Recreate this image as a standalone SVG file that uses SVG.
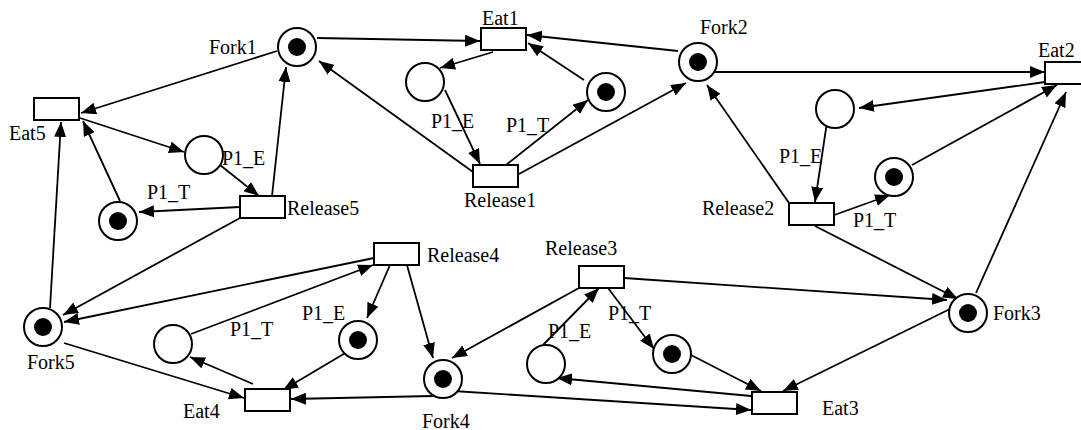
<svg xmlns="http://www.w3.org/2000/svg" width="1081" height="430" viewBox="0 0 1081 430">
  <style>
    .bg { fill: #ffffff; }
    .place { fill: #ffffff; stroke: #000000; stroke-width: 2; }
    .token { fill: #000000; }
    .trans { fill: #ffffff; stroke: #000000; stroke-width: 2; }
    .arc { stroke: #000000; stroke-width: 1.8; fill: none; marker-end: url(#arrow); }
    .lbl { font-size: 20px; fill: #000000; }
  </style>
  <defs>
    <marker id="arrow" markerUnits="userSpaceOnUse" markerWidth="15" markerHeight="12" refX="15" refY="6" orient="auto">
      <path d="M0,0 L15,6 L0,12 z" fill="#000000"/>
    </marker>
  </defs>
  <rect class="bg" x="0" y="0" width="1081" height="430"/>

  <!-- arcs of the net -->
  <g id="connectors">
    <line class="arc" x1="317" y1="38" x2="480" y2="41"/>
    <line class="arc" x1="277" y1="51" x2="81" y2="113"/>
    <line class="arc" x1="473" y1="172" x2="319" y2="61"/>
    <line class="arc" x1="272" y1="196" x2="286" y2="67"/>
    <line class="arc" x1="80" y1="118" x2="184" y2="152"/>
    <line class="arc" x1="220" y1="165" x2="259" y2="196"/>
    <line class="arc" x1="240" y1="207" x2="139" y2="212"/>
    <line class="arc" x1="120" y1="201" x2="83" y2="121"/>
    <line class="arc" x1="50" y1="308" x2="61" y2="122"/>
    <line class="arc" x1="240" y1="218" x2="63" y2="315"/>
    <line class="arc" x1="374" y1="258" x2="64" y2="322"/>
    <line class="arc" x1="191" y1="334" x2="373" y2="265"/>
    <line class="arc" x1="253" y1="384" x2="190" y2="357"/>
    <line class="arc" x1="64" y1="343" x2="244" y2="398"/>
    <line class="arc" x1="347" y1="352" x2="283" y2="390"/>
    <line class="arc" x1="433" y1="396" x2="291" y2="399"/>
    <line class="arc" x1="393" y1="258" x2="367" y2="318"/>
    <line class="arc" x1="405" y1="258" x2="433" y2="358"/>
    <line class="arc" x1="579" y1="288" x2="452" y2="358"/>
    <line class="arc" x1="543" y1="345" x2="599" y2="288"/>
    <line class="arc" x1="605" y1="284" x2="654" y2="349"/>
    <line class="arc" x1="624" y1="278" x2="947" y2="300"/>
    <line class="arc" x1="815" y1="226" x2="958" y2="299"/>
    <line class="arc" x1="950" y1="309" x2="783" y2="391"/>
    <line class="arc" x1="691" y1="355" x2="761" y2="391"/>
    <line class="arc" x1="751" y1="396" x2="557" y2="378"/>
    <line class="arc" x1="453" y1="391" x2="751" y2="410"/>
    <line class="arc" x1="976" y1="293" x2="1066" y2="92"/>
    <line class="arc" x1="912" y1="165" x2="1057" y2="85"/>
    <line class="arc" x1="1045" y1="82" x2="859" y2="108"/>
    <line class="arc" x1="827" y1="122" x2="815" y2="202"/>
    <line class="arc" x1="826" y1="218" x2="890" y2="195"/>
    <line class="arc" x1="789" y1="203" x2="707" y2="85"/>
    <line class="arc" x1="705" y1="72" x2="1045" y2="72"/>
    <line class="arc" x1="678" y1="51" x2="527" y2="35"/>
    <line class="arc" x1="493" y1="52" x2="440" y2="68"/>
    <line class="arc" x1="445" y1="90" x2="480" y2="164"/>
    <line class="arc" x1="506" y1="165" x2="588" y2="100"/>
    <line class="arc" x1="584" y1="80" x2="528" y2="43"/>
    <line class="arc" x1="519" y1="174" x2="686" y2="83"/>
  </g>

  <g font-family="'Liberation Serif', Tinos, 'DejaVu Serif', serif">
  <!-- places: forks -->
  <g id="fork1"><circle class="place" cx="297" cy="47" r="19"/><circle class="token" cx="297" cy="47" r="9"/><text class="lbl" x="209" y="54">Fork1</text></g>
  <g id="fork2"><circle class="place" cx="698" cy="62" r="19"/><circle class="token" cx="698" cy="62" r="9"/><text class="lbl" x="700" y="34">Fork2</text></g>
  <g id="fork3"><circle class="place" cx="968" cy="313" r="19"/><circle class="token" cx="968" cy="313" r="9"/><text class="lbl" x="993" y="320">Fork3</text></g>
  <g id="fork4"><circle class="place" cx="443" cy="379" r="19"/><circle class="token" cx="443" cy="379" r="9"/><text class="lbl" x="422" y="428">Fork4</text></g>
  <g id="fork5"><circle class="place" cx="43" cy="327" r="19"/><circle class="token" cx="43" cy="327" r="9"/><text class="lbl" x="27" y="369">Fork5</text></g>

  <!-- places: philosopher states -->
  <g id="p1e-1"><circle class="place" cx="425" cy="82" r="19"/><text class="lbl" x="431" y="128">P1_E</text></g>
  <g id="p1t-1"><circle class="place" cx="606" cy="92" r="19"/><circle class="token" cx="606" cy="92" r="9"/><text class="lbl" x="506" y="132">P1_T</text></g>
  <g id="p1e-2"><circle class="place" cx="835" cy="109" r="19"/><text class="lbl" x="779" y="163">P1_E</text></g>
  <g id="p1t-2"><circle class="place" cx="894" cy="177" r="19"/><circle class="token" cx="894" cy="177" r="9"/><text class="lbl" x="853" y="227">P1_T</text></g>
  <g id="p1e-3"><circle class="place" cx="546" cy="364" r="19"/><text class="lbl" x="548" y="338">P1_E</text></g>
  <g id="p1t-3"><circle class="place" cx="672" cy="354" r="19"/><circle class="token" cx="672" cy="354" r="9"/><text class="lbl" x="608" y="320">P1_T</text></g>
  <g id="p1e-4"><circle class="place" cx="358" cy="340" r="19"/><circle class="token" cx="358" cy="340" r="9"/><text class="lbl" x="302" y="320">P1_E</text></g>
  <g id="p1t-4"><circle class="place" cx="173" cy="344" r="19"/><text class="lbl" x="230" y="336">P1_T</text></g>
  <g id="p1e-5"><circle class="place" cx="204" cy="155" r="19"/><text class="lbl" x="222" y="165">P1_E</text></g>
  <g id="p1t-5"><circle class="place" cx="118" cy="221" r="19"/><circle class="token" cx="118" cy="221" r="9"/><text class="lbl" x="147" y="199">P1_T</text></g>

  <!-- transitions -->
  <g id="eat1"><rect class="trans" x="481" y="28" width="45" height="22"/><text class="lbl" x="482" y="25">Eat1</text></g>
  <g id="eat2"><rect class="trans" x="1045" y="62" width="45" height="22"/><text class="lbl" x="1038" y="57">Eat2</text></g>
  <g id="eat3"><rect class="trans" x="752" y="392" width="45" height="22"/><text class="lbl" x="822" y="415">Eat3</text></g>
  <g id="eat4"><rect class="trans" x="245" y="389" width="45" height="22"/><text class="lbl" x="183" y="418">Eat4</text></g>
  <g id="eat5"><rect class="trans" x="34" y="98" width="45" height="22"/><text class="lbl" x="9" y="140">Eat5</text></g>
  <g id="release1"><rect class="trans" x="473" y="165" width="45" height="22"/><text class="lbl" x="464" y="207">Release1</text></g>
  <g id="release2"><rect class="trans" x="789" y="203" width="45" height="22"/><text class="lbl" x="702" y="215">Release2</text></g>
  <g id="release3"><rect class="trans" x="579" y="266" width="45" height="22"/><text class="lbl" x="545" y="255">Release3</text></g>
  <g id="release4"><rect class="trans" x="374" y="243" width="45" height="22"/><text class="lbl" x="427" y="262">Release4</text></g>
  <g id="release5"><rect class="trans" x="240" y="196" width="45" height="22"/><text class="lbl" x="287" y="215">Release5</text></g>
  </g>
</svg>
